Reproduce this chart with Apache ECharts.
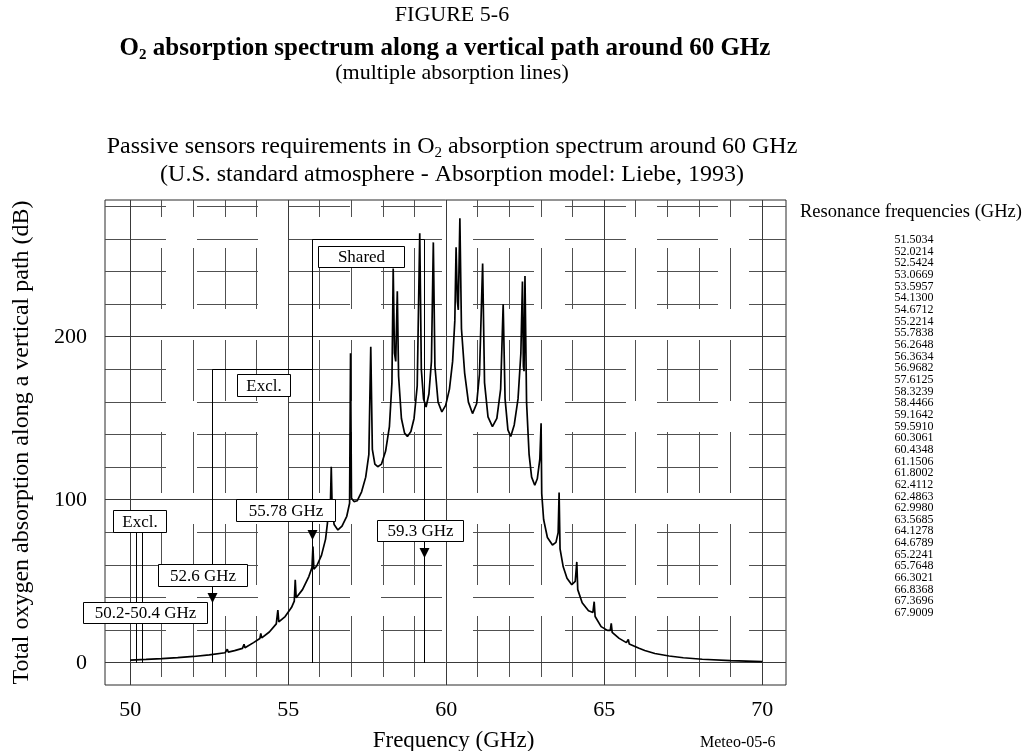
<!DOCTYPE html>
<html>
<head>
<meta charset="utf-8">
<title>O2 absorption spectrum around 60 GHz</title>
<script src="https://cdn.jsdelivr.net/npm/echarts@6/dist/echarts.min.js"></script>
<style>
  html, body { margin: 0; padding: 0; background: #ffffff; }
  #chart { width: 1025px; height: 751px; }
</style>
</head>
<body>
<div id="chart"></div>
<script>
// Total oxygen absorption along a vertical path (dB) versus frequency (GHz)
const frequency = [
  50.00, 50.50, 51.00, 51.50, 52.00, 52.50, 53.00, 53.04, 53.07, 53.10,
  53.30, 53.55, 53.60, 53.63, 53.90, 54.10, 54.13, 54.16, 54.40, 54.62,
  54.67, 54.70, 54.90, 55.10, 55.19, 55.22, 55.25, 55.45, 55.65, 55.75,
  55.78, 55.81, 55.90, 56.05, 56.18, 56.24, 56.26, 56.29, 56.33, 56.36,
  56.39, 56.45, 56.57, 56.70, 56.85, 56.94, 56.97, 57.00, 57.08, 57.18,
  57.32, 57.45, 57.55, 57.61, 57.66, 57.74, 57.83, 57.95, 58.08, 58.20,
  58.28, 58.32, 58.36, 58.40, 58.45, 58.49, 58.58, 58.68, 58.77, 58.88,
  58.98, 59.08, 59.16, 59.21, 59.28, 59.36, 59.45, 59.53, 59.59, 59.64,
  59.74, 59.86, 59.98, 60.10, 60.20, 60.27, 60.31, 60.35, 60.38, 60.43,
  60.48, 60.58, 60.70, 60.83, 60.96, 61.05, 61.15, 61.21, 61.32, 61.46,
  61.60, 61.72, 61.80, 61.86, 61.95, 62.04, 62.15, 62.27, 62.36, 62.41,
  62.44, 62.46, 62.49, 62.54, 62.62, 62.70, 62.80, 62.88, 62.96, 63.00,
  63.02, 63.08, 63.20, 63.36, 63.47, 63.54, 63.57, 63.60, 63.70, 63.82,
  63.97, 64.08, 64.13, 64.16, 64.30, 64.50, 64.64, 64.68, 64.71, 64.90,
  65.10, 65.19, 65.22, 65.25, 65.47, 65.70, 65.76, 65.79, 66.10, 66.28,
  66.30, 66.33, 66.60, 67.05, 67.50, 68.10, 69.00, 70.00
];
const absorption = [
  1.8, 2.2, 2.7, 3.3, 4.0, 5.0, 6.3, 6.6, 8.4, 6.7,
  7.6, 9.0, 11.5, 9.3, 12.5, 15.0, 18.2, 15.4, 19.0, 24.0,
  32.5, 25.2, 28.5, 34.0, 38.0, 51.0, 40.0, 45.0, 53.0, 58.5,
  71.4, 57.5, 59.5, 66.0, 76.0, 86.0, 97.0, 88.0, 95.0, 120.4,
  94.0, 85.0, 81.6, 84.0, 90.0, 98.0, 190.0, 101.0, 99.0, 99.5,
  105.0, 114.0, 128.0, 194.0, 131.0, 122.0, 120.4, 122.0, 130.0, 145.0,
  172.0, 242.0, 190.0, 185.0, 228.0, 176.0, 150.0, 141.0, 139.0, 142.0,
  150.0, 170.0, 263.6, 180.0, 162.0, 157.0, 165.0, 185.0, 258.0, 182.0,
  160.0, 154.0, 158.0, 168.0, 185.0, 210.0, 255.0, 222.0, 216.6, 272.8,
  205.0, 178.0, 160.0, 153.0, 159.0, 177.0, 245.0, 172.0, 151.0, 145.0,
  150.0, 168.0, 220.0, 162.0, 143.0, 139.0, 146.0, 162.0, 190.0, 234.0,
  182.0, 179.0, 237.4, 160.0, 128.0, 114.0, 109.0, 113.0, 125.0, 147.0,
  104.0, 88.0, 77.0, 72.4, 74.0, 80.0, 104.5, 70.0, 59.0, 52.0,
  48.0, 50.0, 62.0, 45.0, 37.0, 32.0, 31.0, 37.6, 28.5, 22.3,
  20.0, 20.0, 24.3, 18.8, 15.1, 12.5, 14.5, 11.6, 9.0, 7.7,
  8.7, 7.3, 5.8, 4.3, 3.2, 2.3, 1.4, 0.8
];

// O2 line centres listed beside the plot (GHz)
const resonanceFrequencies = [
  '51.5034', '52.0214', '52.5424', '53.0669', '53.5957', '54.1300', '54.6712',
  '55.2214', '55.7838', '56.2648', '56.3634', '56.9682', '57.6125', '58.3239',
  '58.4466', '59.1642', '59.5910', '60.3061', '60.4348', '61.1506', '61.8002',
  '62.4112', '62.4863', '62.9980', '63.5685', '64.1278', '64.6789', '65.2241',
  '65.7648', '66.3021', '66.8368', '67.3696', '67.9009'
];

// Axis labels and grid lines
const xTickLabels = [50, 55, 60, 65, 70];
const yTickLabels = [0, 100, 200];
const xMajorLines = [50, 55, 60, 65, 70];
const xMinorLines = [51, 52, 53, 54, 56, 57, 58, 59, 61, 62, 63, 64, 66, 67, 68, 69];
const yMajorLines = [0, 100, 200];
const yMinorLines = [20, 40, 60, 80, 120, 140, 160, 180, 220, 240, 260, 280];

// Allocated bands (GHz) and their bracket heights (dB)
const bandEdges = [[50.2, 50.4], [52.6, 55.78], [55.78, 59.3]];
const bandNames = ['Excl.', 'Excl.', 'Shared'];
const bandTops = [80, 180, 259.5];

// Single-frequency markers (GHz) and arrow tip heights (dB)
const markerFreqs = [52.6, 55.78, 59.3];
const markerTips = [36.8, 75.5, 64.4];

const X_MIN = 49.2, X_MAX = 70.75, Y_MIN = -13.5, Y_MAX = 284;
const SERIF = "'Liberation Serif', 'Times New Roman', Times, serif";

// Label boxes: centre in data units, box size in pixels
const boxes = [
  { text: bandNames[0], at: [50.3, 87.1], w: 53, h: 22 },
  { text: bandNames[1], at: [54.23, 170.5], w: 53, h: 22 },
  { text: bandNames[2], at: [57.29, 249.4], w: 86, h: 21 },
  { text: bandEdges[0][0] + '-' + bandEdges[0][1] + ' GHz', at: [50.47, 31.0], w: 124, h: 21 },
  { text: markerFreqs[0] + ' GHz', at: [52.27, 54.0], w: 89, h: 22 },
  { text: markerFreqs[1] + ' GHz', at: [54.91, 93.9], w: 99, h: 22 },
  { text: markerFreqs[2] + ' GHz', at: [59.17, 81.3], w: 86, h: 21 }
];

const crisp = v => Math.round(v - 0.5) + 0.5;

function gridLineRenderer(vertical, major) {
  return function (params, api) {
    const v = api.value(vertical ? 0 : 1);
    const a = vertical ? api.coord([v, Y_MAX]) : api.coord([X_MIN, v]);
    const b = vertical ? api.coord([v, Y_MIN]) : api.coord([X_MAX, v]);
    const style = { stroke: major ? '#3a3a3a' : '#505050', lineWidth: 1 };
    if (!major) {
      style.lineDash = [61, 31];
      style.lineDashOffset = vertical ? 44 : 0;
    }
    return {
      type: 'line',
      silent: true,
      shape: vertical
        ? { x1: crisp(a[0]), y1: a[1], x2: crisp(b[0]), y2: b[1] }
        : { x1: a[0], y1: crisp(a[1]), x2: b[0], y2: crisp(b[1]) },
      style: style
    };
  };
}

function bandRenderer(params, api) {
  const i = params.dataIndex;
  const f0 = bandEdges[i][0], f1 = bandEdges[i][1], top = bandTops[i];
  const p0 = api.coord([f0, 0]), p1 = api.coord([f0, top]);
  const p2 = api.coord([f1, top]), p3 = api.coord([f1, 0]);
  return {
    type: 'polyline',
    silent: true,
    shape: { points: [[crisp(p0[0]), p0[1]], [crisp(p1[0]), crisp(p1[1])], [crisp(p2[0]), crisp(p2[1])], [crisp(p3[0]), p3[1]]] },
    style: { stroke: '#000', lineWidth: 1, fill: null }
  };
}

function markerRenderer(params, api) {
  const i = params.dataIndex;
  const tip = api.coord([markerFreqs[i], markerTips[i]]);
  const x = crisp(tip[0]);
  return {
    type: 'polygon',
    silent: true,
    shape: { points: [[x - 5, tip[1] - 10], [x + 5, tip[1] - 10], [x, tip[1]]] },
    style: { fill: '#000' }
  };
}

function boxRenderer(params, api) {
  const b = boxes[params.dataIndex];
  const c = api.coord(b.at);
  const x = Math.round(c[0] - b.w / 2) + 0.5, y = Math.round(c[1] - b.h / 2) + 0.5;
  return {
    type: 'group',
    silent: true,
    children: [
      { type: 'rect', shape: { x: x, y: y, width: b.w, height: b.h },
        style: { fill: '#fff', stroke: '#000', lineWidth: 1 } },
      { type: 'text', x: x + b.w / 2, y: y + b.h / 2 + 1,
        style: { text: b.text, fill: '#000', font: '17px ' + SERIF,
                 align: 'center', verticalAlign: 'middle',
                 textAlign: 'center', textVerticalAlign: 'middle' } }
    ]
  };
}

const chart = echarts.init(document.getElementById('chart'), null, { renderer: 'canvas' });

const titleRich = {
  b: { fontFamily: SERIF, fontSize: 25, fontWeight: 'bold', color: '#000' },
  bs: { fontFamily: SERIF, fontSize: 15, fontWeight: 'bold', color: '#000', padding: [14, 0, 0, 0] },
  r: { fontFamily: SERIF, fontSize: 24, fontWeight: 'normal', color: '#000' },
  rs: { fontFamily: SERIF, fontSize: 15, fontWeight: 'normal', color: '#000', padding: [13, 0, 0, 0] }
};

chart.setOption({
  animation: false,
  backgroundColor: '#ffffff',
  title: [
    { text: 'FIGURE 5-6', left: 452, top: 4, textAlign: 'center', padding: 0,
      textStyle: { fontFamily: SERIF, fontSize: 22, fontWeight: 'normal', color: '#000' } },
    { text: '{b|O}{bs|2}{b| absorption spectrum along a vertical path around 60 GHz}',
      left: 445, top: 34, textAlign: 'center', padding: 0,
      textStyle: { fontWeight: 'normal', rich: titleRich } },
    { text: '(multiple absorption lines)', left: 452, top: 62, textAlign: 'center', padding: 0,
      textStyle: { fontFamily: SERIF, fontSize: 22, fontWeight: 'normal', color: '#000' } },
    { text: '{r|Passive sensors requirements in O}{rs|2}{r| absorption spectrum around 60 GHz}',
      left: 452, top: 133, textAlign: 'center', padding: 0,
      textStyle: { fontWeight: 'normal', rich: titleRich } },
    { text: '(U.S. standard atmosphere - Absorption model: Liebe, 1993)',
      left: 452, top: 163, textAlign: 'center', padding: 0,
      textStyle: { fontFamily: SERIF, fontSize: 24, fontWeight: 'normal', color: '#000' } }
  ],
  grid: {
    left: 105, top: 200, width: 681, height: 485,
    outerBoundsMode: 'none', containLabel: false,
    show: true, borderColor: '#2a2a2a', borderWidth: 1, backgroundColor: '#fff'
  },
  xAxis: {
    type: 'value', min: X_MIN, max: X_MAX,
    axisLine: { show: false }, axisTick: { show: false }, splitLine: { show: false },
    axisLabel: { customValues: xTickLabels, margin: 14, color: '#000', fontFamily: SERIF, fontSize: 22 },
    name: 'Frequency (GHz)', nameLocation: 'middle', nameGap: 44,
    nameTextStyle: { fontFamily: SERIF, fontSize: 23, color: '#000', padding: [0, 0, 0, 16] }
  },
  yAxis: {
    type: 'value', min: Y_MIN, max: Y_MAX,
    axisLine: { show: false }, axisTick: { show: false }, splitLine: { show: false },
    axisLabel: { customValues: yTickLabels, margin: 18, color: '#000', fontFamily: SERIF, fontSize: 22 },
    name: 'Total oxygen absorption along a vertical path (dB)', nameLocation: 'middle', nameGap: 71,
    nameTextStyle: { fontFamily: SERIF, fontSize: 24, color: '#000' }
  },
  series: [
    { type: 'custom', name: 'x minor grid', renderItem: gridLineRenderer(true, false),
      data: xMinorLines.map(v => [v, 0]), z: 1, silent: true },
    { type: 'custom', name: 'y minor grid', renderItem: gridLineRenderer(false, false),
      data: yMinorLines.map(v => [X_MIN, v]), z: 1, silent: true },
    { type: 'custom', name: 'x major grid', renderItem: gridLineRenderer(true, true),
      data: xMajorLines.map(v => [v, 0]), z: 2, silent: true },
    { type: 'custom', name: 'y major grid', renderItem: gridLineRenderer(false, true),
      data: yMajorLines.map(v => [X_MIN, v]), z: 2, silent: true },
    { type: 'custom', name: 'bands', renderItem: bandRenderer,
      data: bandEdges.map((e, i) => [e[0], bandTops[i]]), z: 3, silent: true },
    { type: 'line', name: 'Total O2 absorption',
      data: frequency.map((f, i) => [f, absorption[i]]),
      showSymbol: false, symbol: 'none', z: 5, silent: true,
      lineStyle: { color: '#000', width: 1.7 } },
    { type: 'custom', name: 'markers', renderItem: markerRenderer,
      data: markerFreqs.map((f, i) => [f, markerTips[i]]), z: 6, silent: true },
    { type: 'custom', name: 'labels', renderItem: boxRenderer,
      data: boxes.map(b => b.at), z: 7, silent: true }
  ],
  graphic: [
    { type: 'text', x: 800, y: 203,
      style: { text: 'Resonance frequencies (GHz)', font: '18.5px ' + SERIF, fill: '#000' } },
    { type: 'text', x: 914, y: 234,
      style: { text: resonanceFrequencies.join('\n'), font: '12px ' + SERIF, fill: '#000',
               align: 'center', textAlign: 'center', lineHeight: 11.66 } },
    { type: 'text', x: 700, y: 735,
      style: { text: 'Meteo-05-6', font: '16px ' + SERIF, fill: '#000' } }
  ]
});
</script>
</body>
</html>
